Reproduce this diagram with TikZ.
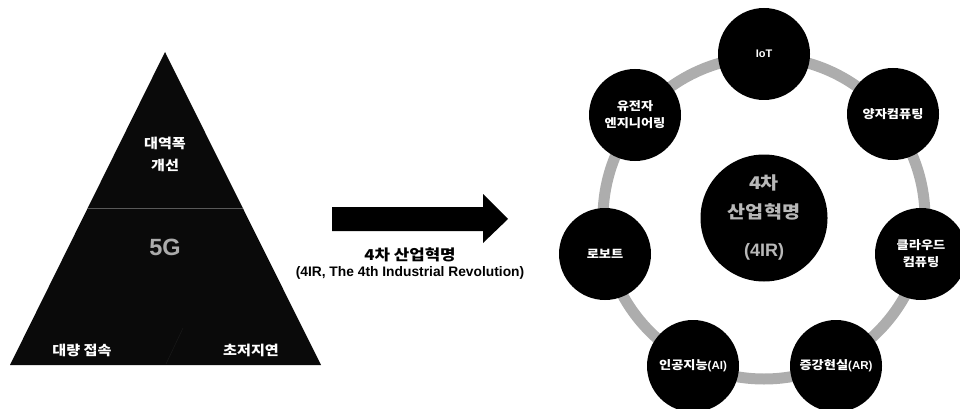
\documentclass[tikz,border=0pt]{standalone}
\usepackage{fontspec}
\setmainfont{Noto Sans CJK KR}[FakeStretch=1.12]
\newfontfamily\lat{Liberation Sans}
\begin{document}
\begin{tikzpicture}[x=1pt,y=-1pt,
  sat/.style={circle,fill=black,minimum size=92pt,inner sep=0pt,text=white,align=center,font=\bfseries\fontsize{11.8}{17}\selectfont},
  tri/.style={text=white,align=center,font=\bfseries\fontsize{13.5}{22}\selectfont},
  ctxt/.style={text=black!28,align=center}]
\useasboundingbox (0,0) rectangle (960,409);
% triangle
\fill[black!96] (165,52) -- (321,365) -- (10,365) -- cycle;
\draw[black!65,line width=0.8pt] (88,208) -- (243,208);
\draw[black!90,line width=0.5pt] (183,328) -- (166,364);
\node[tri] (t1) at (165,154) {대역폭\\개선};
\node[font=\lat\bfseries\fontsize{23.5}{25}\selectfont,text=black!33] (t2) at (165,247) {5G};
\node[tri] (t3) at (82,350) {대량 접속};
\node[tri] (t4) at (251,350) {초저지연};
% arrow
\fill[black] (332,207) -- (483,207) -- (483,194) -- (508,219) -- (483,243) -- (483,231) -- (332,231) -- cycle;
\node[font=\bfseries\fontsize{15}{17}\selectfont] (a1) at (410,255) {4차 산업혁명};
\node[font=\lat\bfseries\fontsize{13.8}{15}\selectfont] (a2) at (410,273) {(4IR, The 4th Industrial Revolution)};
% ring
\coordinate (c) at (764,218);
\draw[black!32,line width=11pt] (c) circle (161);
\node[circle,fill=black,minimum size=127pt,inner sep=0pt] (ctr) at (c) {};
\node[ctxt,font=\bfseries\fontsize{17.5}{29}\selectfont] (ct1) at (764,197) {4차\\산업혁명};
\node[ctxt,font=\lat\bfseries\fontsize{18}{20}\selectfont] (ct2) at (764,252) {(4IR)};
\node[sat] (s1) at (764,54) {{\lat\fontsize{11}{12}\selectfont IoT}};
\node[sat] (s2) at (893,114) {양자컴퓨팅};
\node[sat] (s3) at (921,254) {클라우드\\컴퓨팅};
\node[sat] (s4) at (836,366) {증강현실{\lat\fontsize{11.5}{12}\selectfont(AR)}};
\node[sat] (s5) at (693,366) {인공지능{\lat\fontsize{11.5}{12}\selectfont(AI)}};
\node[sat] (s6) at (605,254) {로보트};
\node[sat] (s7) at (635,115) {유전자\\엔지니어링};
\end{tikzpicture}
\end{document}
